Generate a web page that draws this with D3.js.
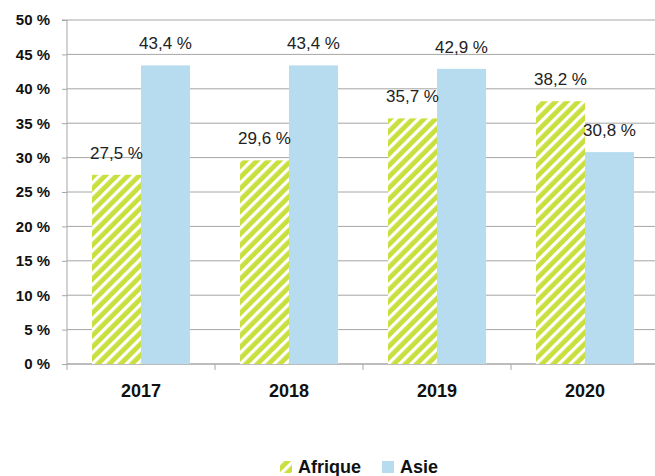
<!DOCTYPE html>
<html><head><meta charset="utf-8">
<script src="https://cdn.jsdelivr.net/npm/d3@7"></script>
<style>body{margin:0;background:#fff;} svg{display:block;}</style>
</head><body>
<script>
const categories = ["2017","2018","2019","2020"];
const seriesNames = ["Afrique","Asie"];
const afrique = [27.5, 29.6, 35.7, 38.2];
const asie = [43.4, 43.4, 42.9, 30.8];
const yTicks = [0,5,10,15,20,25,30,35,40,45,50];

const W = 655, H = 476;
const FONT = "Liberation Sans, Arial, sans-serif";
const svg = d3.select("body").append("svg").attr("width", W).attr("height", H);
const defs = svg.append("defs");
const pat = defs.append("pattern").attr("id","hatch").attr("patternUnits","userSpaceOnUse")
  .attr("width",8).attr("height",8).attr("patternTransform","rotate(45)");
pat.append("rect").attr("width",8).attr("height",8).attr("fill","#c9df3e");
pat.append("rect").attr("x",0).attr("width",3.2).attr("height",8).attr("fill","#ffffff");

const x0 = 67, x1 = 659, yTop = 20, yBot = 364;
const x = d3.scaleBand().domain(categories).range([x0, x1]).paddingInner(0.338).paddingOuter(0.169);
const xs = d3.scaleBand().domain(seriesNames).range([0, x.bandwidth()]);
const y = d3.scaleLinear().domain([0,50]).range([yBot, yTop]);

// gridlines
svg.append("g").selectAll("line").data(yTicks).join("line")
  .attr("x1", x0).attr("x2", x1).attr("y1", d=>y(d)).attr("y2", d=>y(d))
  .attr("stroke","#a6a6a6").attr("stroke-width",1);

// y axis
const yAxis = d3.axisLeft(y).tickValues(yTicks).tickSize(5).tickPadding(12).tickFormat(d=>d+" %");
const gy = svg.append("g").attr("transform",`translate(${x0},0)`).call(yAxis);
gy.select(".domain").attr("stroke","#a6a6a6").attr("d",`M-5,${yTop}H0V${yBot}`);
gy.selectAll(".tick line").attr("stroke","#a6a6a6");
gy.selectAll("text").attr("font-family",FONT).attr("font-size",15).attr("font-weight","bold").attr("fill","#111");

// x axis
const xAxisG = svg.append("g").attr("transform",`translate(0,${yBot})`);
xAxisG.append("line").attr("x1",x0).attr("x2",x1).attr("stroke","#a6a6a6");
const bounds = categories.map(c => x(c) - x.step()*x.paddingInner()/2);
xAxisG.selectAll(".tk").data(bounds).join("line")
  .attr("x1",d=>d).attr("x2",d=>d).attr("y1",0).attr("y2",6).attr("stroke","#a6a6a6");
xAxisG.selectAll("text").data(categories).join("text")
  .attr("x", d=>x(d)+x.bandwidth()/2).attr("y",33)
  .attr("text-anchor","middle").attr("font-family",FONT)
  .attr("font-size",18).attr("font-weight","bold").attr("fill","#111").text(d=>d);

const data = categories.map((c,i)=>({c, vals:[{s:"Afrique",v:afrique[i]},{s:"Asie",v:asie[i]}]}));
const fills = {Afrique:"url(#hatch)", Asie:"#b7dcef"};
const groups = svg.append("g").selectAll("g").data(data).join("g").attr("transform",d=>`translate(${x(d.c)},0)`);
groups.selectAll("rect").data(d=>d.vals).join("rect")
  .attr("x",d=>xs(d.s)).attr("width",xs.bandwidth())
  .attr("y",d=>y(d.v)).attr("height",d=>yBot-y(d.v)).attr("fill",d=>fills[d.s]);
groups.selectAll("text").data(d=>d.vals).join("text")
  .attr("x",d=>xs(d.s)+xs.bandwidth()/2).attr("y",d=>y(d.v)-16)
  .attr("text-anchor","middle").attr("font-family",FONT)
  .attr("font-size",17).attr("fill","#222").text(d=>d.v.toFixed(1).replace(".",",")+" %");

// legend
const leg = svg.append("g").attr("transform","translate(280,461)");
const items = [{s:"Afrique",dx:0},{s:"Asie",dx:102}];
items.forEach(it=>{
  const g = leg.append("g").attr("transform",`translate(${it.dx},0)`);
  g.append("rect").attr("width",12).attr("height",12).attr("fill",fills[it.s]);
  g.append("text").attr("x",18).attr("y",12).attr("font-family",FONT)
    .attr("font-size",18).attr("font-weight","bold").attr("fill","#111").text(it.s);
});
</script>
</body></html>
